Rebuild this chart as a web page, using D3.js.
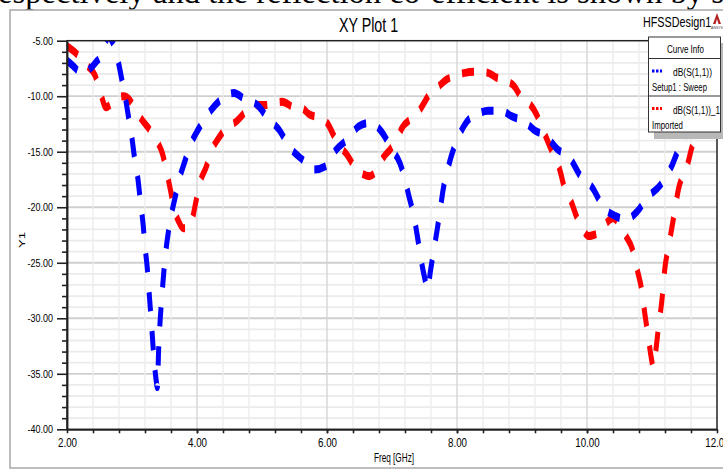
<!DOCTYPE html>
<html>
<head>
<meta charset="utf-8">
<script src="https://cdn.jsdelivr.net/npm/d3@7/dist/d3.min.js"></script>
<style>
body{margin:0;background:#fff;}
svg{display:block;font-family:"Liberation Sans",Arial,sans-serif;}
</style>
</head>
<body>
<div class="box"></div>
<script>
// valeurs (GHz / dB)
const freqBleu=[2.0,2.1,2.17,2.28,2.36,2.45,2.53,2.6,2.64,2.69,2.75,2.8,2.85,2.9,2.95,3.0,3.04,3.09,3.13,3.17,3.2,3.24,3.27,3.3,3.33,3.37,3.39,3.41,3.43,3.46,3.49,3.52,3.56,3.6,3.66,3.72,3.8,3.89,3.98,4.06,4.21,4.39,4.57,4.72,4.93,5.08,5.26,5.44,5.62,5.8,5.98,6.13,6.33,6.49,6.67,6.84,7.0,7.12,7.2,7.26,7.33,7.39,7.45,7.5,7.55,7.59,7.64,7.69,7.74,7.79,7.86,7.95,8.05,8.15,8.32,8.48,8.68,8.84,9.04,9.2,9.37,9.55,9.73,9.88,10.09,10.24,10.44,10.6,10.77,10.93,11.13,11.31,11.44,11.59,11.8,12.0];
const dbBleu=[-6.8,-7.3,-7.7,-7.9,-7.5,-6.9,-6.3,-5.0,-4.6,-5.0,-5.9,-7.2,-8.7,-10.2,-12.0,-13.8,-15.6,-17.4,-19.5,-21.5,-23.5,-25.8,-28.2,-30.5,-33.0,-35.5,-36.2,-32.8,-30.5,-28.0,-25.8,-24.0,-22.2,-20.8,-19.2,-17.6,-16.1,-14.5,-13.4,-12.6,-11.3,-10.2,-9.7,-10.2,-10.8,-11.9,-13.0,-14.7,-15.7,-16.6,-16.3,-14.9,-13.8,-12.7,-12.4,-13.2,-14.8,-16.0,-17.5,-19.0,-20.6,-22.6,-24.8,-26.3,-27.4,-25.8,-24.0,-22.2,-20.3,-18.3,-16.5,-14.7,-13.3,-12.3,-11.6,-11.3,-11.3,-11.8,-12.3,-13.1,-13.6,-14.8,-15.5,-17.0,-18.3,-19.9,-20.8,-21.1,-20.4,-19.1,-18.0,-16.2,-14.3,-12.8,-11.4,-10.5];
const freqRouge=[2.0,2.17,2.3,2.43,2.52,2.6,2.68,2.76,2.87,2.96,3.04,3.15,3.27,3.4,3.47,3.53,3.59,3.65,3.72,3.79,3.86,3.93,3.98,4.04,4.14,4.24,4.33,4.46,4.6,4.77,4.93,5.05,5.2,5.31,5.49,5.62,5.72,5.85,6.0,6.1,6.18,6.3,6.42,6.55,6.65,6.75,6.87,6.97,7.07,7.15,7.3,7.43,7.58,7.7,7.84,8.0,8.12,8.3,8.48,8.6,8.75,8.88,9.0,9.12,9.22,9.32,9.45,9.58,9.66,9.75,9.85,9.93,10.02,10.1,10.2,10.3,10.4,10.5,10.6,10.7,10.78,10.84,10.89,10.94,10.99,11.02,11.05,11.1,11.15,11.2,11.26,11.33,11.41,11.54,11.62,11.75,11.88,12.0];
const dbRouge=[-5.5,-6.3,-7.2,-8.1,-9.8,-11.0,-10.7,-10.2,-10.0,-10.3,-11.1,-12.1,-13.0,-14.2,-15.2,-16.7,-18.4,-20.2,-21.3,-21.9,-21.9,-21.0,-19.6,-17.9,-16.4,-14.7,-13.8,-12.8,-12.3,-11.3,-10.8,-10.8,-10.6,-10.5,-11.0,-11.1,-11.6,-11.9,-12.4,-13.5,-14.4,-15.2,-16.3,-17.0,-17.2,-16.8,-15.5,-14.8,-14.0,-12.9,-12.0,-11.2,-9.8,-9.2,-8.5,-8.1,-7.9,-7.8,-7.9,-8.3,-8.6,-9.1,-10.2,-10.7,-11.6,-13.0,-14.8,-16.6,-18.4,-19.4,-21.0,-21.9,-22.6,-22.5,-22.2,-21.4,-21.0,-21.5,-22.6,-23.8,-25.8,-27.4,-29.6,-31.6,-33.6,-34.4,-33.3,-30.8,-28.5,-25.4,-23.4,-21.0,-18.3,-16.3,-14.5,-13.4,-12.2,-11.3];
const xTicks=[2,4,6,8,10,12];
const yTicks=[-5,-10,-15,-20,-25,-30,-35,-40];
const noms=['dB(S(1,1))','dB(S(1,1))_1'];
const sousNoms=['Setup1 : Sweep','Imported'];
const couleurs=['#0000ff','#ff0000'];

const dims={width:723,height:470,gauche:67,droite:717,haut:40.7,bas:429.3};
const k=1.6; // l'image d'origine est etiree verticalement

const svg=d3.select('.box')
    .append('svg')
    .attr('width',dims.width)
    .attr('height',dims.height);

const x=d3.scaleLinear().domain([2,12]).range([dims.gauche,dims.droite]);
const y=d3.scaleLinear().domain([-40,-5]).range([dims.bas,dims.haut]);
const yc=d3.scaleLinear().domain([-40,-5]).range([(dims.bas-dims.haut)/k,0]);

const serre=(sel,f)=>sel.each(function(){
    const l=this.getComputedTextLength();
    d3.select(this).attr('textLength',l*f).attr('lengthAdjust','spacingAndGlyphs');
});

// texte de l'article coupe en haut
svg.append('text')
    .attr('x',-2).attr('y',3)
    .attr('font-family','"Liberation Serif",serif')
    .attr('font-size',32)
    .attr('textLength',735)
    .attr('lengthAdjust','spacingAndGlyphs')
    .text('espectively and the reflection co-efficient is shown by si');

// cadre
svg.append('rect')
    .attr('x',10).attr('y',10)
    .attr('width',740).attr('height',458)
    .attr('fill','none')
    .attr('stroke','#a8a8a8')
    .attr('stroke-width',1.5);

svg.append('text')
    .attr('transform','translate(339,31.5) scale(0.73,1)')
    .attr('font-size',19.5)
    .text('XY Plot 1');
svg.append('text')
    .attr('transform','translate(643,27) scale(0.72,1)')
    .attr('font-size',15)
    .text('HFSSDesign1');
const logo=svg.append('g').attr('transform','translate(717,13)');
logo.append('path')
    .attr('d','M0,0 L-4,11 L-1.5,11 L0,6 L1.5,11 L4,11 Z')
    .attr('fill','#b22222');
logo.append('text')
    .attr('y',16).attr('text-anchor','middle')
    .attr('font-size',3.5).attr('fill','#444')
    .text('ANSYS');

// grille
const grille=svg.append('g');
grille.selectAll('line.hmin')
    .data(d3.range(-39,-5))
    .enter().append('line')
    .attr('x1',dims.gauche).attr('x2',dims.droite)
    .attr('y1',d=>y(d)).attr('y2',d=>y(d))
    .attr('stroke',d=>d%5===0?'#cfcfcf':'#ebebeb')
    .attr('stroke-width',1.8);
const xMineurs=d3.range(1,25).map(i=>2+i*0.4);
grille.selectAll('line.v')
    .data(xMineurs)
    .enter().append('line')
    .attr('y1',dims.haut).attr('y2',dims.bas)
    .attr('x1',d=>x(d)).attr('x2',d=>x(d))
    .attr('stroke',d=>Math.abs(d/2-Math.round(d/2))<1e-6?'#d2d2d2':'#ececec')
    .attr('stroke-width',1.3);

// courbes
svg.append('clipPath').attr('id','clip')
    .append('rect')
    .attr('x',dims.gauche).attr('y',0)
    .attr('width',dims.droite-dims.gauche)
    .attr('height',(dims.bas-dims.haut)/k);

const graph=svg.append('g')
    .attr('transform',`translate(0,${dims.haut}) scale(1,${k})`)
    .attr('clip-path','url(#clip)');
const ligne=d3.line()
    .x(d=>x(d[0]))
    .y(d=>yc(d[1]))
    .curve(d3.curveMonotoneX);
const series=[d3.zip(freqRouge,dbRouge),d3.zip(freqBleu,dbBleu)];
graph.selectAll('path')
    .data(series)
    .enter().append('path')
    .attr('d',ligne)
    .attr('fill','none')
    .attr('stroke',(d,i)=>i===0?couleurs[1]:couleurs[0])
    .attr('stroke-width',5)
    .attr('stroke-dasharray','12,12.5');

// axes
const axeY=svg.append('g')
    .attr('transform',`translate(${dims.gauche},0)`)
    .call(d3.axisLeft(y).tickValues(yTicks).tickSize(10).tickPadding(4).tickSizeOuter(0).tickFormat(d=>d.toFixed(2)));
svg.append('g')
    .attr('transform',`translate(${dims.gauche},0)`)
    .call(d3.axisLeft(y).tickValues(d3.range(-39,-5).filter(d=>d%5!==0)).tickSize(5).tickSizeOuter(0).tickFormat(''));
const axeX=svg.append('g')
    .attr('transform',`translate(0,${dims.bas})`)
    .call(d3.axisBottom(x).tickValues(xTicks).tickSize(4).tickPadding(5).tickSizeOuter(0).tickFormat(d=>d.toFixed(2)));
svg.append('g')
    .attr('transform',`translate(0,${dims.bas})`)
    .call(d3.axisBottom(x).tickValues(xMineurs).tickSize(4).tickSizeOuter(0).tickFormat(''));
svg.selectAll('.domain').attr('stroke','#222').attr('stroke-width',1.5);
svg.selectAll('.tick line').attr('stroke','#222').attr('stroke-width',1.6);
axeY.selectAll('text').attr('font-size',11.5).attr('font-family','"Liberation Sans",Arial,sans-serif').attr('fill','#000').call(serre,0.78);
axeX.selectAll('text').attr('font-size',12.5).attr('font-family','"Liberation Sans",Arial,sans-serif').attr('fill','#000').call(serre,0.78);

svg.append('rect')
    .attr('x',dims.gauche).attr('y',dims.haut)
    .attr('width',dims.droite-dims.gauche)
    .attr('height',dims.bas-dims.haut)
    .attr('fill','none')
    .attr('stroke','#222')
    .attr('stroke-width',1.5);

svg.append('text')
    .attr('x',374).attr('y',462)
    .attr('font-size',12.5)
    .attr('textLength',40)
    .attr('lengthAdjust','spacingAndGlyphs')
    .text('Freq [GHz]');
svg.append('text')
    .attr('transform','translate(25,248) rotate(-90)')
    .attr('font-size',8.5)
    .attr('textLength',16)
    .attr('lengthAdjust','spacingAndGlyphs')
    .text('Y1');

// legende
const legende=svg.append('g').attr('class','legend');
legende.append('rect')
    .attr('x',654).attr('y',43)
    .attr('width',75).attr('height',96)
    .attr('fill','#b8b8b8');
legende.append('rect')
    .attr('x',648.5).attr('y',37)
    .attr('width',72).attr('height',95)
    .attr('fill','#fff')
    .attr('stroke','#333')
    .attr('stroke-width',1);
legende.append('text')
    .attr('x',667).attr('y',53)
    .attr('font-size',11)
    .attr('textLength',37)
    .attr('lengthAdjust','spacingAndGlyphs')
    .text('Curve Info');
legende.selectAll('line.sep')
    .data([58.5,96])
    .enter().append('line')
    .attr('x1',648.5).attr('x2',720.5)
    .attr('y1',d=>d).attr('y2',d=>d)
    .attr('stroke','#333');
const entrees=legende.selectAll('g.entree')
    .data(noms)
    .enter().append('g')
    .attr('transform',(d,i)=>`translate(0,${i*37.5})`);
entrees.append('line')
    .attr('x1',652).attr('x2',662)
    .attr('y1',71).attr('y2',71)
    .attr('stroke',(d,i)=>couleurs[i])
    .attr('stroke-width',3)
    .attr('stroke-dasharray','2.5,1.5');
entrees.append('text')
    .attr('x',673).attr('y',76)
    .attr('font-size',11)
    .attr('textLength',(d,i)=>i===0?39:47)
    .attr('lengthAdjust','spacingAndGlyphs')
    .text(d=>d);
entrees.append('text')
    .attr('x',652).attr('y',91)
    .attr('font-size',11)
    .attr('textLength',(d,i)=>i===0?55:31)
    .attr('lengthAdjust','spacingAndGlyphs')
    .text((d,i)=>sousNoms[i]);
</script>
</body>
</html>
